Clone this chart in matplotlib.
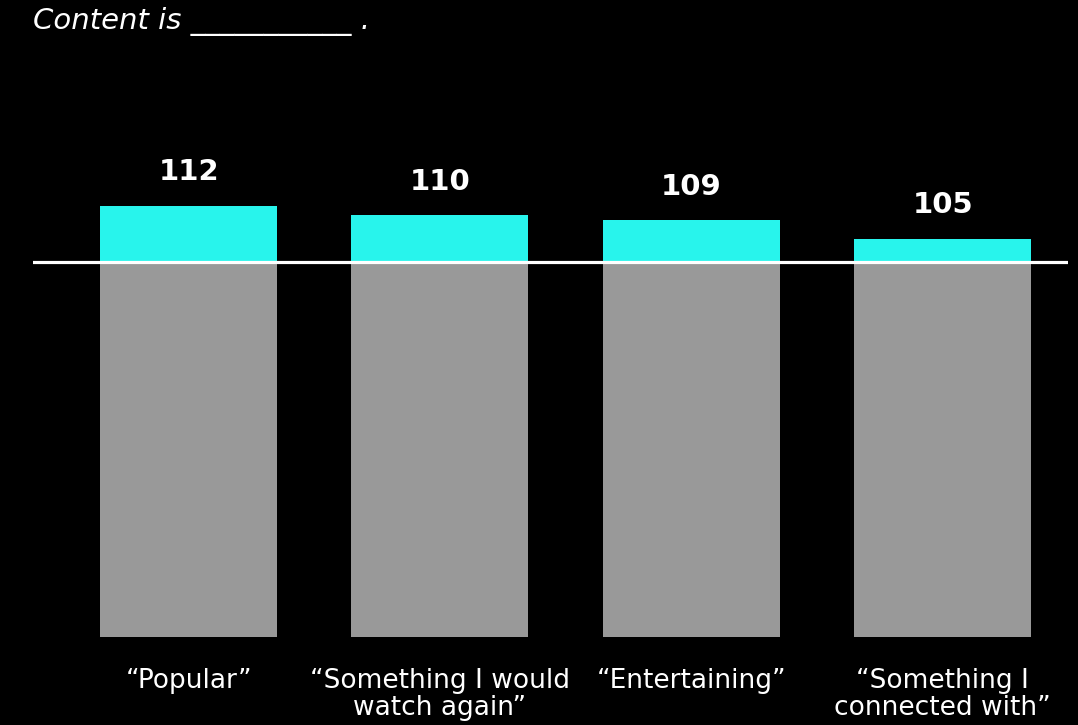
import matplotlib
matplotlib.use("Agg")
import matplotlib.pyplot as plt

# data
categories = ["\u201cPopular\u201d", "\u201cSomething I would\nwatch again\u201d",
              "\u201cEntertaining\u201d", "\u201cSomething I\nconnected with\u201d"]
index_values = [112, 110, 109, 105]
baseline = 100

cyan = "#28F4EC"
grey = "#999999"

fig = plt.figure(figsize=(10.78, 7.25), dpi=100, facecolor="black")
ax = fig.add_axes([33 / 1078, 88 / 725, 1035 / 1078, 497 / 725])
ax.set_facecolor("black")

x = list(range(len(categories)))
ax.bar(x, [baseline] * len(x), width=0.704, color=grey, zorder=1)
ax.bar(x, [v - baseline for v in index_values], bottom=baseline,
       width=0.704, color=cyan, zorder=1)
ax.axhline(baseline, color="white", lw=2.3, zorder=3)

for xi, v in zip(x, index_values):
    ax.annotate(str(v), (xi, v), xytext=(0, 24), textcoords="offset points",
                ha="center", va="center", color="white", fontsize=21,
                fontweight="bold")

ax.set_xlim(-0.619, 3.499)
ax.set_ylim(20.2, 126)
ax.set_xticks(x)
ax.set_xticklabels(categories, color="white", fontsize=19, linespacing=1.08)
ax.tick_params(axis="x", length=0, pad=22)
ax.set_yticks([])
for s in ax.spines.values():
    s.set_visible(False)

fig.text(33 / 1078, 1 - 21 / 725, "Content is ___________ .", color="white",
         fontsize=21, style="italic", ha="left", va="center")

fig.savefig("out.png", dpi=100, facecolor="black")
